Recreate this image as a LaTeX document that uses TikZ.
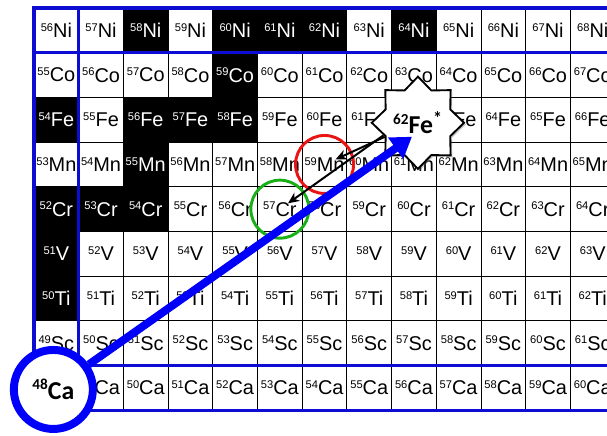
\documentclass[tikz,border=0pt]{standalone}
\usepackage{fontspec}
\setmainfont{Liberation Sans}
\newfontfamily\calfont{Carlito}
\usepackage{tikz}
\usetikzlibrary{arrows.meta, positioning, shapes.geometric, shadows}
\definecolor{magiccol}{RGB}{12,12,210}
\definecolor{beamcol}{RGB}{0,0,250}
\definecolor{hitred}{RGB}{235,20,20}
\definecolor{hitgreen}{RGB}{25,175,25}

\newcommand{\iso}[2]{\raisebox{5.4pt}{\fontsize{9.5}{10}\selectfont #1}#2}
\newcommand{\bigiso}[2]{\raisebox{8pt}{\fontsize{13}{14}\selectfont #1}#2}

% stable nuclides get a black cell
\foreach \s in {Ni58,Ni60,Ni61,Ni62,Ni64,Co59,Fe54,Fe56,Fe57,Fe58,Mn55,Cr52,Cr53,Cr54,V51,Ti50}
  {\expandafter\gdef\csname stab@\s\endcsname{}}

\begin{document}
\begin{tikzpicture}[
  x=0.03cm, y=-0.03cm,
  cell/.style={draw=black, line width=0.8pt, fill=white, minimum size=1.341cm,
               inner sep=0pt, outer sep=0pt, font=\fontsize{17}{18}\selectfont},
  stable/.style={cell, fill=black, text=white},
  magic/.style={draw=magiccol, line width=2.6pt, line cap=rect},
  hit/.style={circle, draw=#1, line width=2.5pt, minimum size=1.74cm},
  burst/.style={star, star points=8, star point ratio=1.32, minimum size=2.74cm,
                draw=black, line width=1.6pt, fill=white, inner sep=0pt,
                drop shadow={shadow xshift=1.5pt, shadow yshift=-1.5pt,
                             opacity=0.35, fill=black!60},
                font=\calfont\bfseries\fontsize{22}{24}\selectfont},
  target/.style={circle, draw=beamcol, line width=6.8pt, fill=white,
                 minimum size=2.37cm, inner sep=0pt,
                 font=\calfont\bfseries\fontsize{22}{24}\selectfont},
  beam/.style={draw=beamcol, line width=6.8pt,
               -{Triangle[length=0.6cm, width=0.75cm]}},
  decay/.style={draw=black, line width=1.7pt,
                -{Stealth[open, length=0.34cm, width=0.3cm]}}
]
  \useasboundingbox (0,0) rectangle (607,435);

  % chart of nuclides, one row per element, N = 28 ... 40
  \foreach \Z/\el [count=\r from 0] in {28/Ni,27/Co,26/Fe,25/Mn,24/Cr,23/V,22/Ti,21/Sc,20/Ca} {
    \foreach \N [evaluate=\N as \A using int(\Z+\N)] in {28,...,40} {
      \ifcsname stab@\el\A\endcsname \def\look{stable}\else \def\look{cell}\fi
      \node[style=\look] (\el\A) at ({34+44.7*(\N-27.5)}, {8+44.7*(\r+0.5)}) {\iso{\A}{\el}};
    }
  }

  % magic numbers Z = 28, Z = 20, N = 28
  \draw[magic] (Ni56.north west) -- (Ni68.north east);
  \draw[magic] (Ni56.south west) -- (Ni68.south east);
  \draw[magic] (Ca48.north west) -- (Ca60.north east);
  \draw[magic] (Ca48.south west) -- (Ca60.south east);
  \draw[magic] (Ni56.north west) -- (Ca48.south west);
  \draw[magic] (Ni56.north east) -- (Ca48.south east);

  \node[hit=hitred] (mn) at (Mn59) {};
  \node[hit=hitgreen] (cr) at (Cr57) {};
  \node[burst] (fe) at ([shift={(4,3)}]Fe62) {\bigiso{62}{Fe\textsuperscript{*}}};
  \node[target] (ca) at ([shift={(-3,1.5)}]Ca48) {\bigiso{48}{Ca}};

  \draw[decay, shorten >=0.36cm] (fe.203) -- (Mn59.center);
  \draw[decay, shorten >=0.3cm] (fe.200) -- (Cr57.center);
  \draw[beam] (ca) -- ([shift={(-6,14)}]fe.center);
\end{tikzpicture}
\end{document}
